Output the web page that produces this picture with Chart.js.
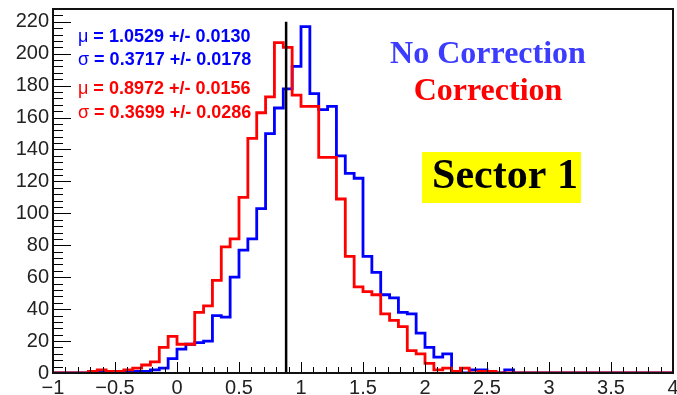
<!DOCTYPE html>
<html>
<head>
<meta charset="utf-8">
<script src="https://cdn.jsdelivr.net/npm/chart.js@4.4.1/dist/chart.umd.min.js"></script>
<style>
  html, body { margin: 0; padding: 0; background: #ffffff; }
  #wrap { width: 677px; height: 395px; }
</style>
</head>
<body>
<div id="wrap"><canvas id="c" width="677" height="395"></canvas></div>
<script>
// Histogram binning: 70 bins between -1 and 4
const X_MIN = -1;
const X_MAX = 4;
const N_BINS = 70;

// Bin contents, without the correction applied
const noCorrection = [
  0, 0, 0, 0, 0, 1, 0, 1, 1, 1,
  1, 2, 3, 9, 15, 18, 19, 20, 36, 35,
  60, 77, 84, 103, 150, 166, 178, 192, 217, 175,
  165, 167, 136, 125, 122, 73, 63, 49, 47, 38,
  37, 25, 16, 10, 12, 1, 0, 2, 2, 1,
  0, 2, 0, 0, 0, 0, 0, 0, 0, 0,
  0, 0, 0, 0, 0, 0, 0, 0, 0, 0
];

// Bin contents, with the correction applied
const correction = [
  0, 0, 0, 0, 1, 2, 1, 1, 2, 3,
  5, 7, 16, 23, 18, 18, 38, 42, 58, 79,
  84, 110, 147, 163, 173, 207, 204, 174, 167, 167,
  135, 135, 109, 73, 54, 51, 49, 37, 33, 29,
  14, 12, 6, 2, 3, 1, 3, 0, 1, 1,
  0, 0, 0, 0, 0, 0, 0, 0, 0, 0,
  0, 0, 0, 0, 0, 0, 0, 0, 0, 0
];

// Reference marker
const markerX = 0.88;
const markerTop = 220;

// Axis ticks
const xTicks = [-1, -0.5, 0, 0.5, 1, 1.5, 2, 2.5, 3, 3.5, 4];
const yTicks = [0, 20, 40, 60, 80, 100, 120, 140, 160, 180, 200, 220];
const Y_MAX = 228;

// Fit results
const fitNoCorr = [["\u03bc", " = 1.0529 +/- 0.0130"], ["\u03c3", " = 0.3717 +/- 0.0178"]];
const fitCorr = [["\u03bc", " = 0.8972 +/- 0.0156"], ["\u03c3", " = 0.3699 +/- 0.0286"]];

const BLUE = "#0000ff";
const RED = "#ff0000";

// Turn bin contents into step points at the bin low edges (plus the closing upper edge)
function toSteps(values) {
  const w = (X_MAX - X_MIN) / N_BINS;
  const pts = values.map((v, i) => ({ x: X_MIN + i * w, y: v }));
  pts.push({ x: X_MAX, y: values[values.length - 1] });
  return pts;
}

function fmt(v) {
  const s = String(v);
  return s.startsWith("-") ? "\u2212" + s.slice(1) : s;
}

const frameAndTicks = {
  id: "frameAndTicks",
  afterDatasetsDraw(chart) {
    const { ctx, chartArea: a, scales } = chart;
    const xs = scales.x, ys = scales.y;
    ctx.save();
    ctx.strokeStyle = "#000";
    ctx.lineWidth = 1;
    ctx.beginPath();
    // x ticks: major every 0.5, minor every 0.1
    for (let i = 0; i <= 50; i++) {
      const v = X_MIN + i * 0.1;
      const px = Math.round(xs.getPixelForValue(v)) + 0.5;
      const len = (i % 5 === 0) ? 11 : 6;
      ctx.moveTo(px, a.bottom);
      ctx.lineTo(px, a.bottom - len);
    }
    // y ticks: major every 20, minor every 4
    for (let v = 0; v <= Y_MAX; v += 4) {
      const py = Math.round(ys.getPixelForValue(v)) + 0.5;
      const len = (v % 20 === 0) ? 18 : 10;
      ctx.moveTo(a.left, py);
      ctx.lineTo(a.left + len, py);
    }
    ctx.stroke();
    // frame
    ctx.lineWidth = 2;
    ctx.strokeStyle = "#111";
    ctx.strokeRect(a.left, a.top, a.right - a.left, a.bottom - a.top);
    ctx.restore();
  },
  afterDraw(chart) {
    const ctx = chart.ctx;
    ctx.save();
    // fit parameter text
    const drawFit = (rows, color, y0) => {
      rows.forEach((r, i) => {
        const y = y0 + i * 23.5;
        ctx.fillStyle = color;
        ctx.textBaseline = "middle";
        ctx.textAlign = "left";
        ctx.font = "18px 'Liberation Sans', Arial, sans-serif";
        ctx.fillText(r[0], 78, y);
        const w = ctx.measureText(r[0]).width;
        ctx.font = "bold 18px 'Liberation Sans', Arial, sans-serif";
        ctx.fillText(r[1], 78 + w, y);
      });
    };
    drawFit(fitNoCorr, BLUE, 37);
    drawFit(fitCorr, RED, 89.5);

    // legend-style titles
    ctx.textAlign = "center";
    ctx.textBaseline = "alphabetic";
    ctx.font = "bold 32px 'Liberation Serif', 'Times New Roman', serif";
    ctx.fillStyle = "#3c3cff";
    ctx.fillText("No Correction", 488, 63);
    ctx.fillStyle = RED;
    ctx.fillText("Correction", 488, 100);

    // sector label box
    ctx.fillStyle = "#ffff00";
    ctx.fillRect(422, 152, 159, 51);
    ctx.fillStyle = "#000";
    ctx.font = "bold 42px 'Liberation Serif', 'Times New Roman', serif";
    ctx.fillText("Sector 1", 505, 188);
    ctx.restore();
  }
};

new Chart(document.getElementById("c"), {
  type: "line",
  data: {
    datasets: [
      {
        label: "marker",
        data: [{ x: markerX, y: 0 }, { x: markerX, y: markerTop }],
        borderColor: "#000",
        borderWidth: 2.5,
        pointRadius: 0,
        order: 0
      },
      {
        label: "Correction",
        data: toSteps(correction),
        borderColor: RED,
        borderWidth: 2.8,
        pointRadius: 0,
        stepped: true,
        order: 1
      },
      {
        label: "No Correction",
        data: toSteps(noCorrection),
        borderColor: BLUE,
        borderWidth: 2.8,
        pointRadius: 0,
        stepped: true,
        order: 2
      }
    ]
  },
  options: {
    responsive: false,
    animation: false,
    devicePixelRatio: 1,
    layout: { padding: { top: 9, right: 4, left: 0, bottom: 0 } },
    plugins: { legend: { display: false }, tooltip: { enabled: false } },
    scales: {
      x: {
        type: "linear",
        min: X_MIN,
        max: X_MAX,
        grid: { display: false, drawTicks: false },
        border: { display: false },
        afterBuildTicks(scale) { scale.ticks = xTicks.map(v => ({ value: v })); },
        afterFit(scale) { scale.height = 22; scale.paddingLeft = 0; scale.paddingRight = 0; },
        ticks: {
          autoSkip: false,
          maxRotation: 0,
          padding: 3,
          color: "#222",
          font: { family: "'Liberation Sans', Arial, sans-serif", size: 20 },
          callback: v => fmt(v)
        }
      },
      y: {
        type: "linear",
        min: 0,
        max: Y_MAX,
        grid: { display: false, drawTicks: false },
        border: { display: false },
        afterBuildTicks(scale) { scale.ticks = yTicks.map(v => ({ value: v })); },
        afterFit(scale) { scale.width = 53; scale.paddingTop = 0; scale.paddingBottom = 0; },
        ticks: {
          autoSkip: false,
          padding: 4,
          color: "#222",
          font: { family: "'Liberation Sans', Arial, sans-serif", size: 20 },
          callback: v => fmt(v)
        }
      }
    }
  },
  plugins: [frameAndTicks]
});
</script>
</body>
</html>
